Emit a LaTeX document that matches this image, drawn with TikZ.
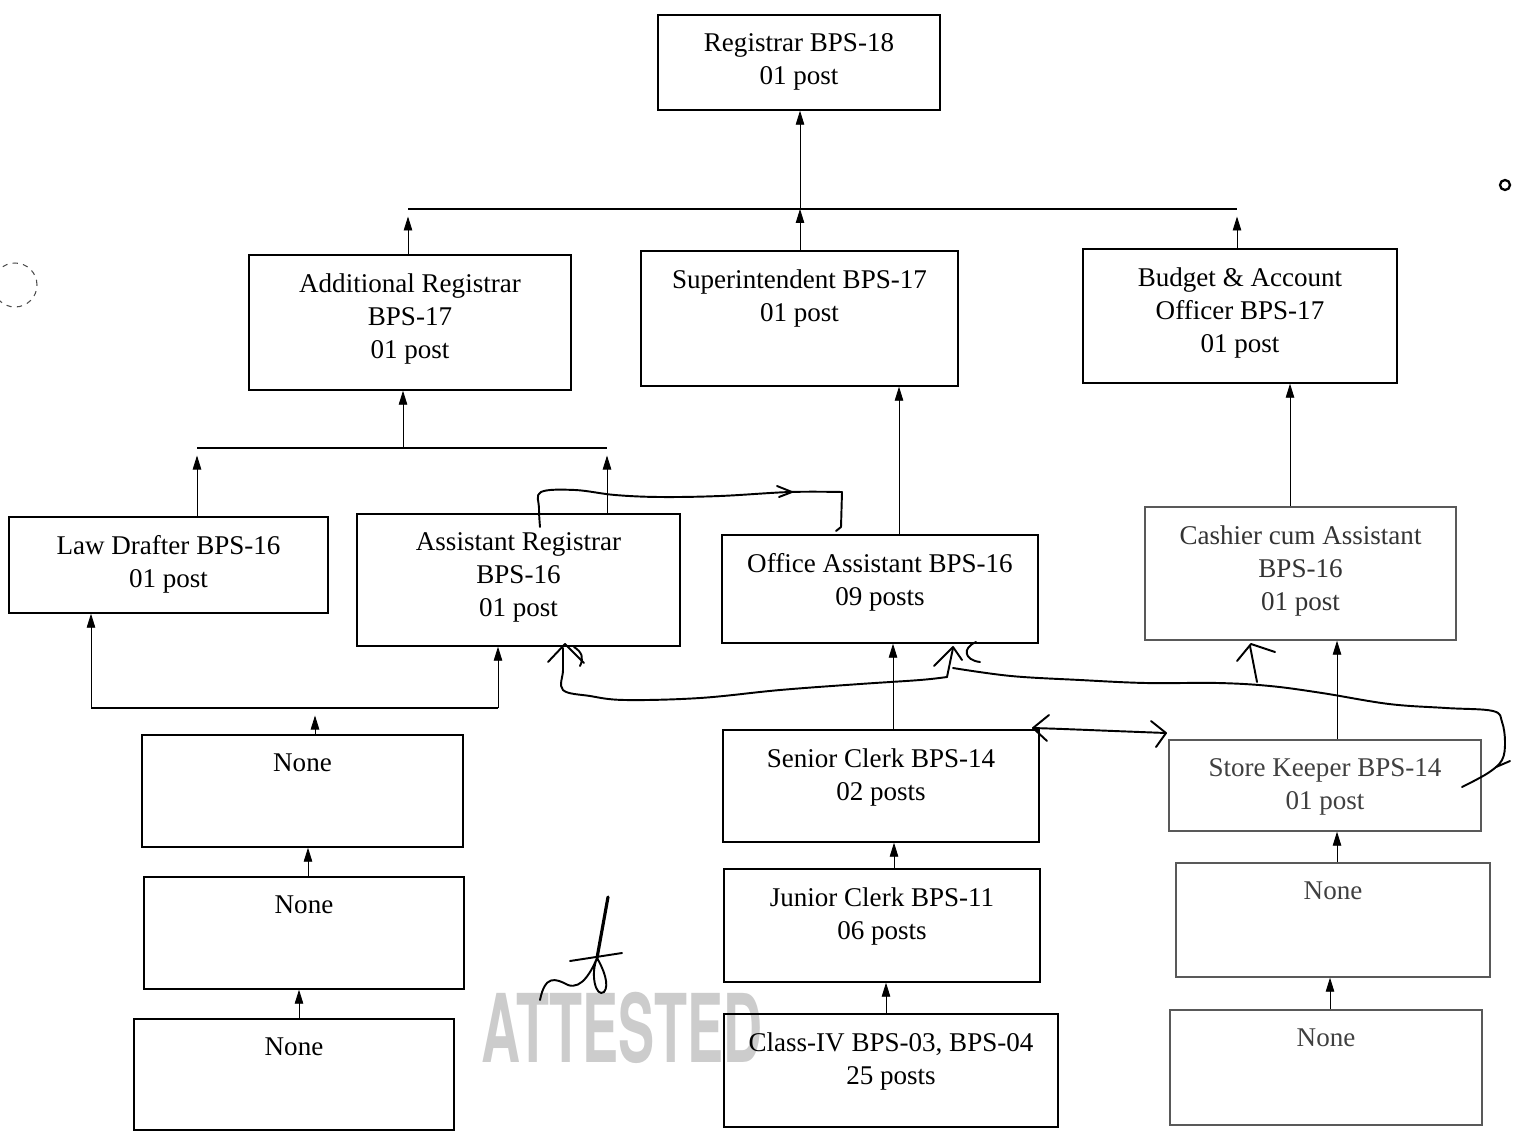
\documentclass[tikz,border=0pt]{standalone}
\usepackage{fontspec}
\setmainfont{Liberation Serif}
\newfontfamily\stampfont{TeX Gyre Heros}
\usetikzlibrary{arrows.meta,positioning,fit}

\tikzset{
  postbox/.style={draw, line width=0.8pt, inner sep=0pt},
  faded/.style={draw=black!65},
  posttext/.style={anchor=north, align=center, inner sep=0pt, font=\postfont},
  link/.style={line width=0.5pt, -{Triangle[length=2.8mm,width=1.7mm]}},
  gap/.style={shorten >=0.15cm},
  bus/.style={line width=0.8pt},
  pen/.style={line width=1.1pt, line cap=round, line join=round},
}
\newcommand{\postfont}{\fontsize{15.4}{18.8}\selectfont}

\begin{document}
\begin{tikzpicture}[x=0.02cm, y=-0.02cm]
  \useasboundingbox (0,0) rectangle (1513,1135);

  % stamp under the bottom row
  \node[anchor=base, text=black!20, font=\stampfont\bfseries\fontsize{54}{54}\selectfont, xscale=0.57] (stamp) at (622,1062) {ATTESTED};

  % boxes
  \node[postbox, fit={(658,15) (940,110)}] (reg) {};
  \node[postbox, fit={(249,255) (571,390)}] (addreg) {};
  \node[postbox, fit={(641,251) (958,386)}] (supt) {};
  \node[postbox, fit={(1083,249) (1397,383)}] (budget) {};
  \node[postbox, fit={(9,517) (328,613)}] (law) {};
  \node[postbox, fit={(357,514) (680,646)}] (asstreg) {};
  \node[postbox, fit={(722,535) (1038,643)}] (office) {};
  \node[postbox, faded, fit={(1145,507) (1456,640)}] (cashier) {};
  \node[postbox, fit={(142,735) (463,847)}] (nonea) {};
  \node[postbox, fit={(144,877) (464,989)}] (noneb) {};
  \node[postbox, fit={(134,1019) (454,1130)}] (nonec) {};
  \node[postbox, fit={(723,730) (1039,842)}] (senior) {};
  \node[postbox, fit={(724,869) (1040,982)}] (junior) {};
  \node[postbox, fit={(724,1014) (1058,1127)}] (classiv) {};
  \node[postbox, faded, fit={(1169,740) (1481,831)}] (store) {};
  \node[postbox, faded, fit={(1176,863) (1490,977)}] (nonera) {};
  \node[postbox, faded, fit={(1170,1010) (1482,1125)}] (nonerb) {};

  % texts
  \node[posttext, below=0.38cm of reg.north] (regt) {Registrar BPS-18\\01 post};
  \node[posttext, below=0.38cm of addreg.north] (addregt) {Additional Registrar\\BPS-17\\01 post};
  \node[posttext, below=0.38cm of supt.north] (suptt) {Superintendent BPS-17\\01 post};
  \node[posttext, below=0.38cm of budget.north] (budgett) {Budget \& Account\\Officer BPS-17\\01 post};
  \node[posttext, below=0.38cm of law.north] (lawt) {Law Drafter BPS-16\\01 post};
  \node[posttext, below=0.38cm of asstreg.north] (asstregt) {Assistant Registrar\\BPS-16\\01 post};
  \node[posttext, below=0.38cm of office.north] (officet) {Office Assistant BPS-16\\09 posts};
  \node[posttext, text=black!80, below=0.38cm of cashier.north] (cashiert) {Cashier cum Assistant\\BPS-16\\01 post};
  \node[posttext, below=0.38cm of nonea.north] (noneat) {None};
  \node[posttext, below=0.38cm of noneb.north] (nonebt) {None};
  \node[posttext, below=0.38cm of nonec.north] (nonect) {None};
  \node[posttext, below=0.38cm of senior.north] (seniort) {Senior Clerk BPS-14\\02 posts};
  \node[posttext, below=0.38cm of junior.north] (juniort) {Junior Clerk BPS-11\\06 posts};
  \node[posttext, below=0.38cm of classiv.north] (classivt) {Class-IV BPS-03, BPS-04\\25 posts};
  \node[posttext, text=black!75, below=0.38cm of store.north] (storet) {Store Keeper BPS-14\\01 post};
  \node[posttext, text=black!75, below=0.38cm of nonera.north] (nonerat) {None};
  \node[posttext, text=black!75, below=0.38cm of nonerb.north] (nonerbt) {None};

  % top bus
  \coordinate (busl) at (408,209);
  \coordinate (busm) at (800,209);
  \coordinate (busr) at (1237,209);
  \draw[bus] (busl) -- (busr);
  \draw[link] (busm) -- (reg.south -| busm);
  \draw[link, gap] (addreg.north -| busl) -- (busl);
  \draw[link] (supt.north -| busm) -- (busm);
  \draw[link, gap] (budget.north -| busr) -- (busr);

  % under additional registrar
  \coordinate (lawbus) at (197,448);
  \coordinate (addbus) at (403,448);
  \coordinate (asstbus) at (607,448);
  \draw[bus] (lawbus) -- (asstbus);
  \draw[link] (addbus) -- (addreg.south -| addbus);
  \draw[link, gap] (law.north -| lawbus) -- (lawbus);
  \draw[link, gap] (asstreg.north -| asstbus) -- (asstbus);

  % under law drafter and assistant registrar
  \coordinate (lowl) at (91,708);
  \coordinate (lowm) at (315,708);
  \coordinate (lowr) at (498,708);
  \draw[bus] (lowl) -- (lowr);
  \draw[link] (lowl) -- (law.south -| lowl);
  \draw[link] (lowr) -- (asstreg.south -| lowr);
  \draw[link, gap] (nonea.north -| lowm) -- (lowm);

  % straight links
  \foreach \lo/\up/\x in {noneb/nonea/308, nonec/noneb/299, office/supt/899,
      senior/office/893, junior/senior/894, classiv/junior/886,
      cashier/budget/1290, store/cashier/1337, nonera/store/1337, nonerb/nonera/1330} {
    \coordinate (col) at (\x,0);
    \draw[link] (\lo.north -| col) -- (\up.south -| col);
  }

  % pen marks
  \draw[pen] plot[smooth, tension=0.6] coordinates {(540,527) (539,508) (541,492) (575,490) (615,495) (660,497) (720,496) (790,492) (842,492)};
  \draw[pen] (842,492) -- (841,527) -- (836,531);
  \draw[pen] (777,486) -- (792,492) -- (779,497);

  \draw[pen] plot[smooth, tension=0.6] coordinates {(563,648) (563,670) (563,690) (590,696) (625,700) (700,698) (780,690) (860,684) (920,680) (947,677)};
  \draw[pen] (548,662) -- (565,644) -- (584,663);
  \draw[pen] (574,647) .. controls (582,652) and (584,658) .. (580,666);

  \draw[pen] (947,677) -- (953,648);
  \draw[pen] (934,666) -- (953,647) -- (962,660);
  \draw[pen] (976,642) .. controls (962,648) and (964,660) .. (980,662);
  \draw[pen] plot[smooth, tension=0.6] coordinates {(953,668) (1011,676) (1080,680) (1146,683) (1218,683) (1270,686) (1322,693) (1389,704) (1446,708) (1493,711) (1502,722) (1505,742) (1502,760) (1488,773) (1462,787)};
  \draw[pen] (1496,767) -- (1510,761);

  \draw[pen] (1257,682) -- (1250,646);
  \draw[pen] (1237,661) -- (1251,644) -- (1275,652);

  \draw[pen] plot[smooth, tension=0.6] coordinates {(1033,728) (1063,729) (1114,731) (1166,733)};
  \draw[pen] (1049,715) -- (1033,728) -- (1047,741);
  \draw[pen] (1151,721) -- (1166,733) -- (1156,747);

  % signature
  \draw[pen, line width=1.8pt] (608,897) -- (597,958);
  \draw[pen] (570,961) -- (622,953);
  \draw[pen] (540,1000) .. controls (545,975) and (555,978) .. (568,985) .. controls (582,990) and (592,970) .. (597,958) .. controls (590,975) and (596,998) .. (604,992) .. controls (610,985) and (603,968) .. (597,958);

  % punch hole and speck
  \draw[dashed, line width=0.6pt, black!70] (15,285) circle (0.44cm);
  \draw[line width=1.3pt] (1505,185) circle (0.1cm);
\end{tikzpicture}
\end{document}
